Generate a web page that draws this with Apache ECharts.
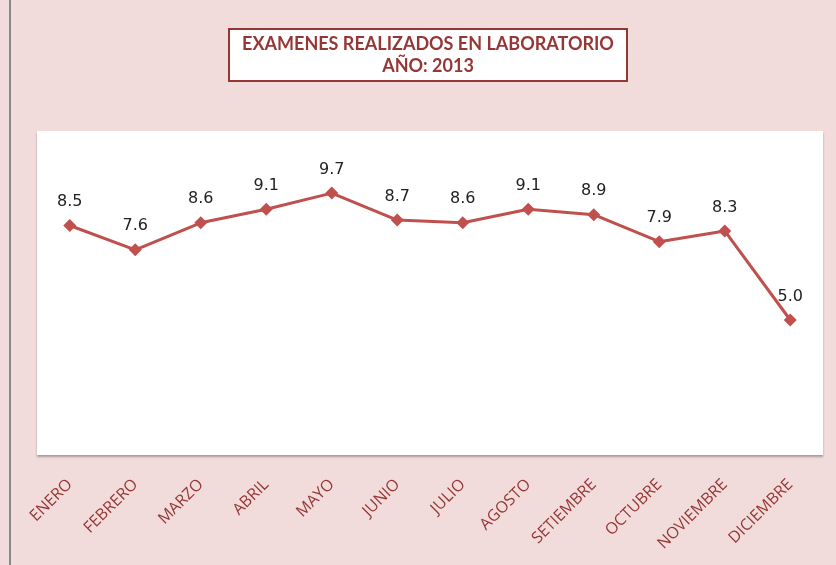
<!DOCTYPE html>
<html>
<head>
<meta charset="utf-8">
<script src="https://cdn.jsdelivr.net/npm/echarts@6/dist/echarts.min.js"></script>
<style>
  html, body { margin: 0; padding: 0; background: #F2DCDB; }
  #chart { width: 836px; height: 565px; }
</style>
</head>
<body>
<div id="chart"></div>
<script>
    // datos del grafico
    var meses = ['ENERO', 'FEBRERO', 'MARZO', 'ABRIL', 'MAYO', 'JUNIO', 'JULIO',
        'AGOSTO', 'SETIEMBRE', 'OCTUBRE', 'NOVIEMBRE', 'DICIEMBRE'];
    var examenes = [8.5, 7.6, 8.6, 9.1, 9.7, 8.7, 8.6, 9.1, 8.9, 7.9, 8.3, 5.0];

    var myChart = echarts.init(document.getElementById('chart'));
    var option = {
        backgroundColor: '#F2DCDB',
        title: {
            text: 'EXAMENES REALIZADOS EN LABORATORIO\nAÑO: 2013',
            left: 415,
            top: 29,
            textAlign: 'center',
            padding: [4, 13, 4, 13],
            backgroundColor: '#fff',
            borderColor: '#953735',
            borderWidth: 2,
            textStyle: {
                fontFamily: 'Lato',
                fontWeight: 'bold',
                fontSize: 18,
                lineHeight: 22,
                color: '#953735'
            }
        },
        graphic: [{
            type: 'line',
            shape: { x1: 10, y1: 0, x2: 10, y2: 565 },
            style: { stroke: '#8a8a8a', lineWidth: 2 }
        }],
        grid: {
            left: 37,
            right: 13,
            top: 131,
            bottom: 110,
            show: true,
            backgroundColor: '#fff',
            borderWidth: 0,
            shadowColor: 'rgba(0,0,0,0.3)',
            shadowBlur: 2,
            shadowOffsetY: 2
        },
        xAxis: {
            type: 'category',
            data: meses,
            boundaryGap: true,
            axisLine: { show: false },
            axisTick: { show: false },
            axisLabel: {
                interval: 0,
                rotate: 45,
                margin: 27,
                fontFamily: 'Open Sans',
                fontSize: 16,
                color: '#953735'
            }
        },
        yAxis: {
            type: 'value',
            min: 0,
            max: 12,
            show: false,
            splitLine: { show: false }
        },
        series: [{
            name: 'Examenes',
            type: 'line',
            data: examenes,
            symbol: 'diamond',
            symbolSize: 13,
            lineStyle: { color: '#C0504D', width: 3 },
            itemStyle: { color: '#C0504D' },
            label: {
                show: true,
                position: 'top',
                distance: 9,
                formatter: function (p) { return p.value.toFixed(1); },
                fontFamily: 'DejaVu Sans',
                fontSize: 16,
                color: '#222'
            }
        }]
    };
    myChart.setOption(option);
</script>
</body>
</html>
